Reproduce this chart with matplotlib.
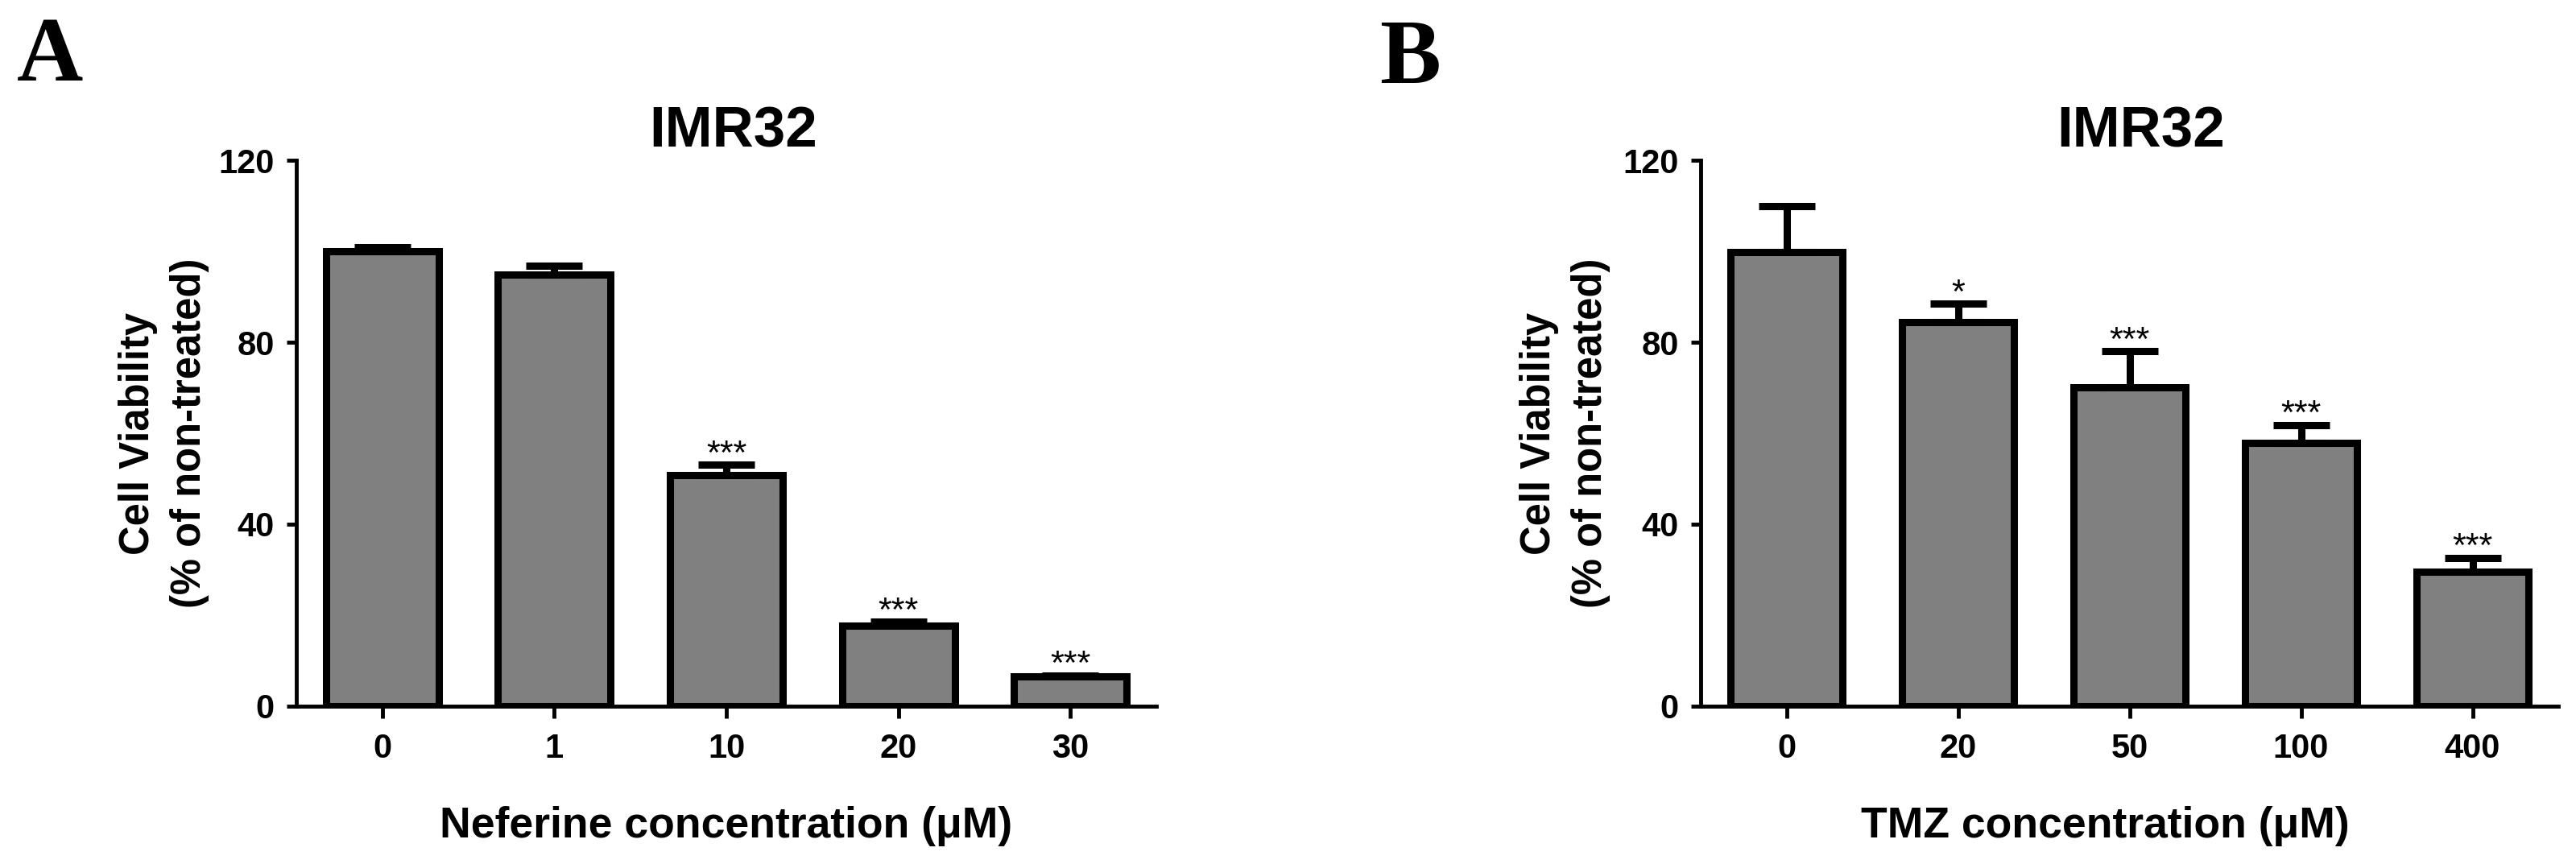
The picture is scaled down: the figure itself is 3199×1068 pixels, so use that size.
import matplotlib
matplotlib.use('Agg')
import matplotlib.pyplot as plt
import numpy as np

plt.rcParams['font.family'] = ['Liberation Sans', 'DejaVu Sans']

# ---------------- data ----------------
a_categories = ['0', '1', '10', '20', '30']
a_means = [100.0, 94.9, 50.8, 17.7, 6.5]
a_errors = [0.9, 1.9, 2.3, 0.9, 0.3]
a_stars = ['', '', '***', '***', '***']

b_categories = ['0', '20', '50', '100', '400']
b_means = [99.8, 84.4, 70.1, 57.9, 29.6]
b_errors = [10.1, 4.1, 7.9, 3.9, 3.0]
b_stars = ['', '*', '***', '***', '***']

y_ticks = [0, 40, 80, 120]
titles = ['IMR32', 'IMR32']
xlabels = ['Neferine concentration (\u03bcM)', 'TMZ concentration (\u03bcM)']
ylabel = 'Cell Viability\n(% of non-treated)'
panel_letters = ['A', 'B']

# ---------------- layout ----------------
W, H = 3199, 1068
fig = plt.figure(figsize=(W / 100, H / 100), dpi=100)

panels = [
    dict(rect=[368 / W, 191 / H, 1068 / W, 678 / H], cats=a_categories, means=a_means,
         errs=a_errors, stars=a_stars, title_x=0.508, xlabel_x=0.5, ylabel_x=-0.101,
         letter_pos=(21 / W, 1 - 100 / H)),
    dict(rect=[2112 / W, 191 / H, 1065 / W, 678 / H], cats=b_categories, means=b_means,
         errs=b_errors, stars=b_stars, title_x=0.513, xlabel_x=0.472, ylabel_x=-0.105,
         letter_pos=(1713 / W, 1 - 103 / H)),
]

for i, p in enumerate(panels):
    ax = fig.add_axes(p['rect'])
    x = np.arange(len(p['cats']))
    means = np.array(p['means'])
    errs = np.array(p['errs'])
    ax.bar(x, means, width=0.656, color='#808080', edgecolor='black',
           linewidth=6.5, zorder=2)
    ax.errorbar(x, means, yerr=[np.zeros_like(errs), errs], fmt='none',
                ecolor='black', elinewidth=6.5, capsize=25, capthick=6.5, zorder=3)
    for xi, m, e, s in zip(x, means, errs, p['stars']):
        if s:
            ax.annotate(s, xy=(xi, m + e), xytext=(0, 1), textcoords='offset points',
                        ha='center', va='baseline', fontsize=31, color='black')

    ax.set_xlim(-0.5, len(x) - 0.5)
    ax.set_ylim(0, 120)
    ax.set_yticks(y_ticks)
    ax.set_xticks(x)
    ax.set_xticklabels(p['cats'])
    for sp in ['top', 'right']:
        ax.spines[sp].set_visible(False)
    for sp in ['left', 'bottom']:
        ax.spines[sp].set_linewidth(3.5)
    ax.tick_params(axis='x', length=11, width=3.5, pad=13, labelsize=30)
    ax.tick_params(axis='y', length=8.5, width=3.5, pad=11, labelsize=30)
    for lab in ax.get_xticklabels() + ax.get_yticklabels():
        lab.set_fontweight('bold')

    ax.set_title(titles[i], fontsize=51, fontweight='bold', pad=12,
                 x=p['title_x'])
    ax.set_xlabel(xlabels[i], fontsize=38.5, fontweight='bold')
    ax.xaxis.set_label_coords(p['xlabel_x'], -0.183)
    ax.set_ylabel(ylabel, fontsize=36.5, fontweight='bold', linespacing=1.4)
    ax.yaxis.set_label_coords(p['ylabel_x'], 0.5)

    fig.text(p['letter_pos'][0], p['letter_pos'][1], panel_letters[i], fontsize=82,
             fontweight='bold', family=['Liberation Serif', 'DejaVu Serif'],
             ha='left', va='baseline')

fig.savefig('out.png', dpi=100)
